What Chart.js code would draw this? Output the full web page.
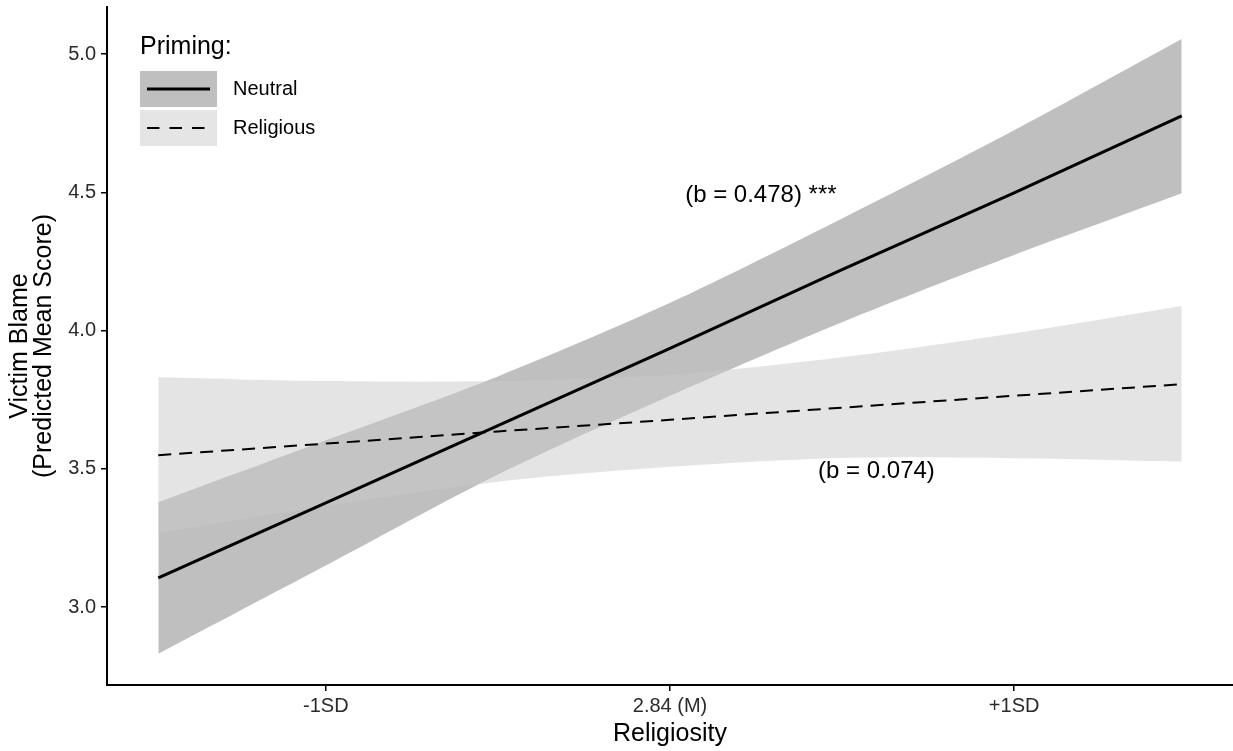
<!DOCTYPE html>
<html>
<head>
<meta charset="utf-8">
<script src="https://cdn.jsdelivr.net/npm/chart.js@4.4.1/dist/chart.umd.min.js"></script>
<style>
  html, body { margin: 0; padding: 0; background: #ffffff; }
  #wrap { width: 1233px; height: 751px; }
</style>
</head>
<body>
<div id="wrap"><canvas id="c" width="1233" height="751"></canvas></div>
<script>
// ---- data (x in SD units of Religiosity, centred on the mean 2.84) ----
const xValues        = [-1.487, -1, -0.5, 0, 0.5, 1, 1.487];
const neutralFit     = [3.105, 3.377, 3.656, 3.935, 4.220, 4.498, 4.776];
const neutralLower   = [2.831, 3.150, 3.479, 3.764, 4.030, 4.273, 4.496];
const neutralUpper   = [3.379, 3.603, 3.834, 4.100, 4.405, 4.724, 5.054];
const religiousFit   = [3.549, 3.591, 3.635, 3.677, 3.721, 3.764, 3.806];
const religiousLower = [3.267, 3.365, 3.453, 3.507, 3.539, 3.538, 3.526];
const religiousUpper = [3.831, 3.817, 3.817, 3.840, 3.903, 3.990, 4.089];

const xTickValues = [-1, 0, 1];
const xTickLabels = ['-1SD', '2.84 (M)', '+1SD'];
const yTickValues = [3.0, 3.5, 4.0, 4.5, 5.0];
const yTickLabels = ['3.0', '3.5', '4.0', '4.5', '5.0'];

const seriesNames = ['Neutral', 'Religious'];
const legendTitle = 'Priming:';
const annotationTexts = ['(b = 0.478) ***', '(b = 0.074)'];
const annotationX = [0.264, 0.60];
const annotationY = [4.49, 3.49];

const xTitle = 'Religiosity';
const yTitle = ['Victim Blame', '(Predicted Mean Score)'];

// ---- helpers ----
const pts = (ys) => xValues.map((x, i) => ({ x: x, y: ys[i] }));
const FONT = 'Liberation Sans, Arial, Helvetica, sans-serif';

const bandBase = {
  pointRadius: 0, borderWidth: 0, borderColor: 'rgba(0,0,0,0)',
  tension: 0.3
};

const datasets = [
  Object.assign({ label: 'nl', data: pts(neutralLower), fill: false, order: 4 }, bandBase),
  Object.assign({ label: 'nu', data: pts(neutralUpper), fill: '-1', backgroundColor: 'rgba(127,127,127,0.5)', order: 4 }, bandBase),
  Object.assign({ label: 'rl', data: pts(religiousLower), fill: false, order: 3 }, bandBase),
  Object.assign({ label: 'ru', data: pts(religiousUpper), fill: '-1', backgroundColor: 'rgba(202,202,202,0.5)', order: 3 }, bandBase),
  { label: seriesNames[0], data: pts(neutralFit), borderColor: '#000', borderWidth: 3, pointRadius: 0, fill: false, order: 1, tension: 0 },
  { label: seriesNames[1], data: pts(religiousFit), borderColor: '#000', borderWidth: 2, borderDash: [13, 8], pointRadius: 0, fill: false, order: 0, tension: 0 }
];

const extrasPlugin = {
  id: 'extras',
  afterDatasetsDraw(chart) {
    const ctx = chart.ctx;
    const xs = chart.scales.x, ys = chart.scales.y;
    ctx.save();
    // annotations
    ctx.fillStyle = '#000';
    ctx.font = '24px ' + FONT;
    ctx.textAlign = 'center';
    ctx.textBaseline = 'middle';
    annotationTexts.forEach((t, i) => {
      ctx.fillText(t, xs.getPixelForValue(annotationX[i]), ys.getPixelForValue(annotationY[i]));
    });
    // legend
    const lx = 140, ty = 47;
    ctx.textAlign = 'left';
    ctx.font = '25px ' + FONT;
    ctx.fillText(legendTitle, lx, ty);
    const boxW = 77, boxH = 36;
    const boxY = [71, 110];
    const fills = ['#bfbfbf', '#e5e5e5'];
    ctx.font = '20px ' + FONT;
    seriesNames.forEach((name, i) => {
      ctx.fillStyle = fills[i];
      ctx.fillRect(lx, boxY[i], boxW, boxH);
      const cy = boxY[i] + boxH / 2;
      ctx.beginPath();
      ctx.strokeStyle = '#000';
      if (i === 0) { ctx.lineWidth = 3; ctx.setLineDash([]); }
      else { ctx.lineWidth = 2; ctx.setLineDash([12.5, 10]); }
      ctx.moveTo(lx + 7, cy);
      ctx.lineTo(lx + boxW - 7, cy);
      ctx.stroke();
      ctx.setLineDash([]);
      ctx.fillStyle = '#000';
      ctx.fillText(name, 233, cy);
    });
    ctx.restore();
  }
};

new Chart(document.getElementById('c'), {
  type: 'line',
  data: { datasets: datasets },
  plugins: [extrasPlugin],
  options: {
    responsive: false,
    animation: false,
    layout: { padding: { top: 7, right: 0, bottom: 0, left: 0 } },
    plugins: { legend: { display: false }, tooltip: { enabled: false } },
    scales: {
      x: {
        type: 'linear', min: -1.636, max: 1.636,
        afterBuildTicks: (s) => { s.ticks = xTickValues.map(v => ({ value: v })); },
        afterFit: (s) => { s.height = 66; s.paddingLeft = 0; s.paddingRight = 0; },
        ticks: { callback: (v, i) => xTickLabels[i], font: { family: FONT, size: 20 }, color: '#2b2b2b', padding: 3, maxRotation: 0, autoSkip: false },
        grid: { drawOnChartArea: false, drawTicks: true, tickLength: 6, color: '#000', lineWidth: 1.5 },
        border: { display: true, color: '#000', width: 2 },
        title: { display: true, text: xTitle, font: { family: FONT, size: 25 }, color: '#000', padding: { top: 0, bottom: 2 } }
      },
      y: {
        type: 'linear', min: 2.718, max: 5.17,
        afterBuildTicks: (s) => { s.ticks = yTickValues.map(v => ({ value: v })); },
        afterFit: (s) => { s.width = 107; s.paddingTop = 0; s.paddingBottom = 0; },
        ticks: { callback: (v, i) => yTickLabels[i], font: { family: FONT, size: 20 }, color: '#2b2b2b', padding: 5 },
        grid: { drawOnChartArea: false, drawTicks: true, tickLength: 6, color: '#000', lineWidth: 1.5 },
        border: { display: true, color: '#000', width: 2 },
        title: { display: true, text: yTitle, font: { family: FONT, size: 25, lineHeight: 0.95 }, color: '#000', padding: { top: 8, bottom: 0 } }
      }
    }
  }
});
</script>
</body>
</html>
